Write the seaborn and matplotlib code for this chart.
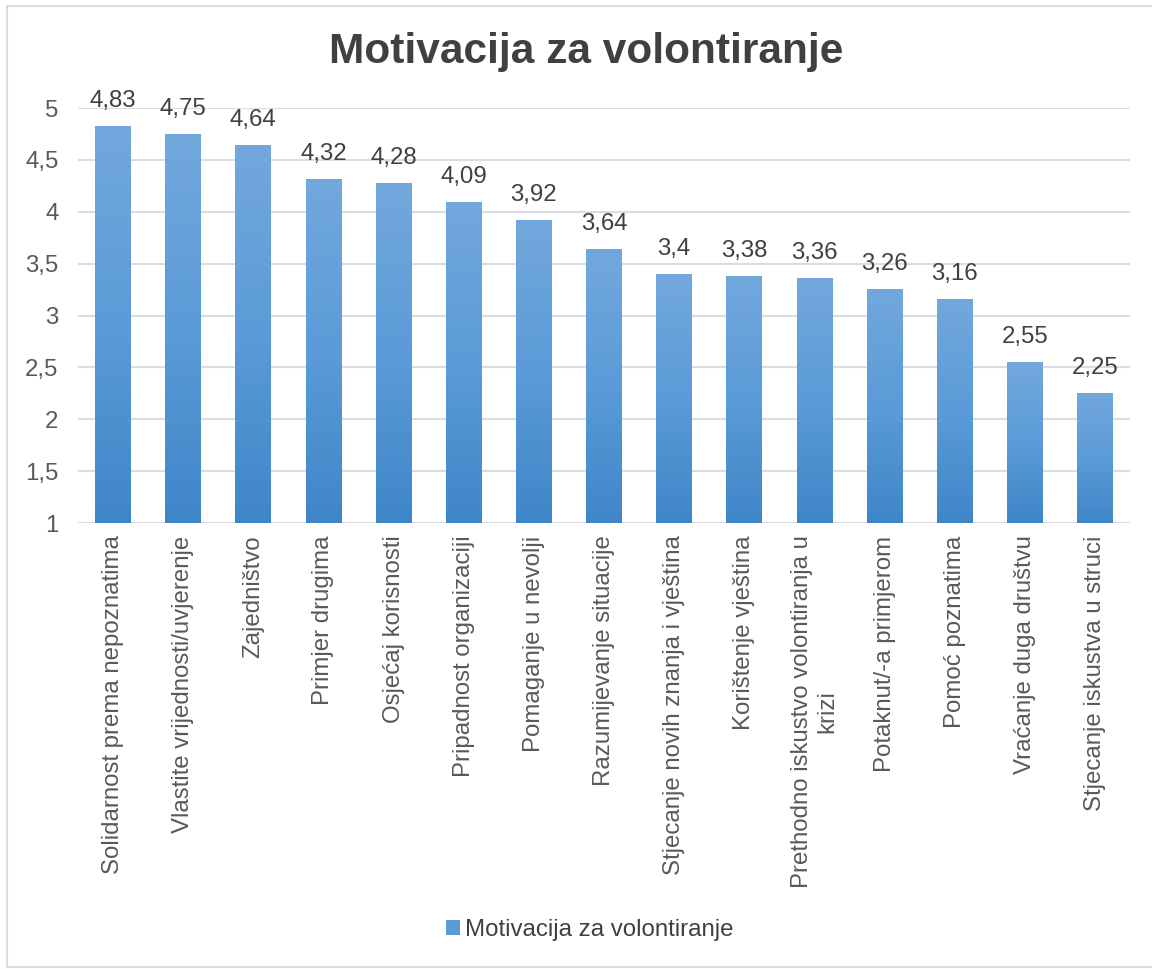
import numpy as np
import pandas as pd
import matplotlib
matplotlib.use('Agg')
import matplotlib.pyplot as plt
import seaborn as sns
from matplotlib.colors import LinearSegmentedColormap
from matplotlib.patches import Patch, Rectangle

# data
categories = [
    'Solidarnost prema nepoznatima',
    'Vlastite vrijednosti/uvjerenje',
    'Zajedništvo',
    'Primjer drugima',
    'Osjećaj korisnosti',
    'Pripadnost organizaciji',
    'Pomaganje u nevolji',
    'Razumijevanje situacije',
    'Stjecanje novih znanja i vještina',
    'Korištenje vještina',
    'Prethodno iskustvo volontiranja u\nkrizi',
    'Potaknut/-a primjerom',
    'Pomoć poznatima',
    'Vraćanje duga društvu',
    'Stjecanje iskustva u struci',
]
values = [4.83, 4.75, 4.64, 4.32, 4.28, 4.09, 3.92, 3.64, 3.4, 3.38, 3.36, 3.26, 3.16, 2.55, 2.25]
series_name = 'Motivacija za volontiranje'
yticks = [1, 1.5, 2, 2.5, 3, 3.5, 4, 4.5, 5]

df = pd.DataFrame({'kategorija': categories, 'vrijednost': values})

sns.set_style('white')
plt.rcParams['font.family'] = ['Liberation Sans', 'DejaVu Sans']

text_col = '#404040'
tick_col = '#595959'
grid_col = '#d9dde3'
fs = 17.3

fig = plt.figure(figsize=(11.52, 9.69), dpi=100)
ax = fig.add_axes([78 / 1152, 1 - 523 / 969, (1130 - 78) / 1152, (523 - 108) / 969])

sns.barplot(data=df, x='kategorija', y='vrijednost', color='#5b9bd5', width=0.51, ax=ax)

# vertical gradient inside each bar (light on top, darker at bottom)
cmap = LinearSegmentedColormap.from_list('bar', ['#3f86c8', '#5b9bd8', '#72a8dd'])
grad = np.linspace(0, 1, 256).reshape(-1, 1)
for p in list(ax.patches):
    x0, w = p.get_x(), p.get_width()
    top = p.get_height()
    im = ax.imshow(grad, cmap=cmap, origin='lower', aspect='auto',
                   extent=[x0, x0 + w, 1, top], zorder=2)
    im.set_clip_path(p)
    p.set_facecolor('none')
    p.set_edgecolor('none')
ax.set_xlim(-0.5, len(categories) - 0.5)
ax.set_ylim(1, 5)

for i, v in enumerate(values):
    ax.text(i, v + 0.135, f'{v:g}'.replace('.', ','), ha='center', va='bottom',
            fontsize=fs, color=text_col)

ax.set_yticks(yticks)
ax.set_yticklabels([f'{t:g}'.replace('.', ',') for t in yticks])
ax.yaxis.grid(True, color=grid_col, linewidth=1.5)
ax.set_axisbelow(True)
for s in ax.spines.values():
    s.set_visible(False)
ax.tick_params(axis='y', length=0, pad=14, labelsize=fs, labelcolor=tick_col)
ax.tick_params(axis='x', length=0, pad=9, labelsize=fs, labelcolor=tick_col)
plt.setp(ax.get_xticklabels(), rotation=90, ha='center', va='top')
ax.set_xlabel('')
ax.set_ylabel('')

fig.text(0.509, 1 - 52 / 969, 'Motivacija za volontiranje', ha='center', va='center',
         fontsize=30.5, fontweight='bold', color=text_col)

handle = Patch(facecolor='#5b9bd5', edgecolor='none')
fig.legend([handle], [series_name], loc='center', bbox_to_anchor=(0.512, 1 - 930 / 969),
           frameon=False, fontsize=fs, handlelength=0.6, handleheight=0.6,
           handletextpad=0.2, labelcolor=text_col)

fig.patches.append(Rectangle((7 / 1152, 2 / 969), 1150 / 1152, 961 / 969, fill=False,
                             edgecolor=grid_col, linewidth=1.5, transform=fig.transFigure))

fig.savefig('out.png', dpi=100)
